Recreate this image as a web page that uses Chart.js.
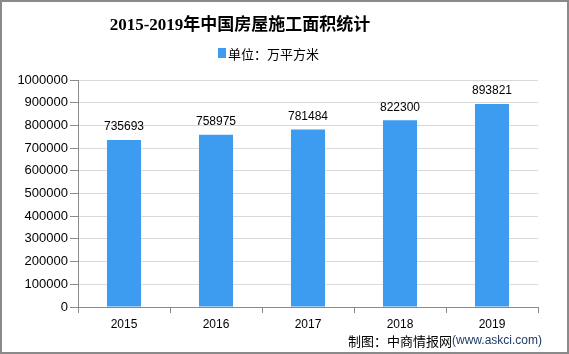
<!DOCTYPE html>
<html>
<head>
<meta charset="utf-8">
<script src="https://cdn.jsdelivr.net/npm/chart.js@4"></script>
<style>
  html, body { margin:0; padding:0; background:#fff; }
  #wrap { width:569px; height:354px; }
</style>
</head>
<body>
<div id="wrap"><canvas id="c" width="569" height="354"></canvas></div>
<script>
// data
const years = ['2015', '2016', '2017', '2018', '2019'];
const area = [735693, 758975, 781484, 822300, 893821];
const titleText = '2015-2019年中国房屋施工面积统计';
const unitText = '单位：万平方米';
const barColor = '#3d9cf0';

// title, legend, footer, value labels, border
const decor = {
  id: 'decor',
  afterDatasetsDraw(chart){
    const ctx = chart.ctx;
    ctx.save();
    // value labels
    const meta = chart.getDatasetMeta(0);
    ctx.fillStyle = '#000';
    ctx.font = '12px "Liberation Sans", Arial, sans-serif';
    ctx.textAlign = 'center';
    ctx.textBaseline = 'middle';
    meta.data.forEach((bar, i) => {
      ctx.fillText(String(area[i]), bar.x, bar.y - 13);
    });
    ctx.restore();
  },
  afterDraw(chart){
    const ctx = chart.ctx;
    ctx.save();
    ctx.textBaseline = 'middle';
    // title
    ctx.fillStyle = '#000';
    ctx.font = 'bold 17px "Liberation Serif", "Noto Sans CJK SC", serif';
    ctx.textAlign = 'center';
    ctx.fillText(titleText, 240, 26);
    // legend
    ctx.fillStyle = barColor;
    ctx.fillRect(218, 48, 8, 10);
    ctx.fillStyle = '#000';
    ctx.font = '13px "Noto Sans CJK SC", sans-serif';
    ctx.textAlign = 'left';
    ctx.fillText(unitText, 228, 54);
    // footer
    ctx.font = '13px "Noto Sans CJK SC", sans-serif';
    ctx.fillStyle = '#000';
    const pre = '制图：中商情报网';
    ctx.fillText(pre, 348, 341);
    const w = ctx.measureText(pre).width;
    ctx.fillStyle = '#1f3a68';
    ctx.font = '12px "Liberation Sans", Arial, sans-serif';
    ctx.fillText('(www.askci.com)', 348 + w, 341);
    // outer border
    ctx.strokeStyle = '#8a8a8a';
    ctx.lineWidth = 2;
    ctx.strokeRect(1, 1, 567, 352);
    ctx.restore();
  }
};

new Chart(document.getElementById('c'), {
  type: 'bar',
  data: {
    labels: years,
    datasets: [{ label: unitText, data: area, backgroundColor: barColor, barPercentage: 0.37, categoryPercentage: 1 }]
  },
  options: {
    responsive: false,
    animation: false,
    layout: { padding: { top: 80, right: 31, bottom: 17, left: 0 } },
    plugins: { legend: { display: false }, title: { display: false }, tooltip: { enabled: false } },
    scales: {
      x: {
        afterFit(s){ s.height = 30; },
        grid: { drawOnChartArea: false, drawTicks: true, tickLength: 6, color: '#8a8a8a', offset: true },
        border: { color: '#8a8a8a', width: 1 },
        ticks: { color: '#000', font: { family: '"Liberation Sans", Arial, sans-serif', size: 12 }, padding: 4 }
      },
      y: {
        min: 0, max: 1000000,
        afterFit(s){ s.width = 78; },
        grid: { color: '#d9d9d9', drawTicks: true, tickLength: 8, tickColor: '#8a8a8a' },
        border: { color: '#8a8a8a', width: 1 },
        ticks: { stepSize: 100000, callback: v => String(v), color: '#000', font: { family: '"Liberation Sans", Arial, sans-serif', size: 13 }, padding: 2 }
      }
    }
  },
  plugins: [decor]
});
</script>
</body>
</html>
